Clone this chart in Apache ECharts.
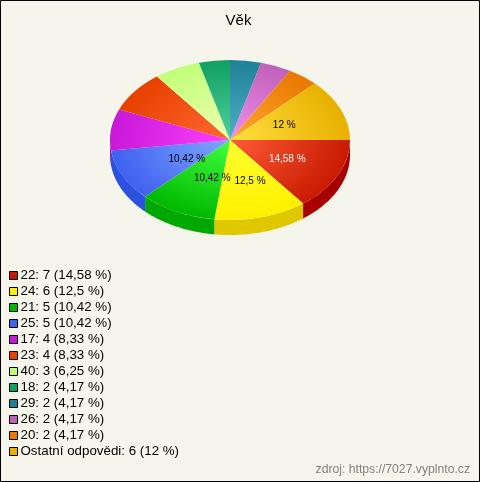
<!DOCTYPE html>
<html><head><meta charset="utf-8">
<style>html,body{margin:0;padding:0;background:#f5f5ec}#c{width:480px;height:482px}</style>
<script src="https://cdn.jsdelivr.net/npm/echarts@6/dist/echarts.min.js"></script>
</head><body><div id="c"></div>
<script>
const categories = ['22','24','21','25','17','23','40','18','29','26','20','Ostatní odpovědi'];
const values = [7,6,5,5,4,4,3,2,2,2,2,6];
const percents = ['14,58 %','12,5 %','10,42 %','10,42 %','8,33 %','8,33 %','6,25 %','4,17 %','4,17 %','4,17 %','4,17 %','12 %'];
const shownLabels = [true,true,true,true,false,false,false,false,false,false,false,true];
const labelColors = ['#fff','#000','#000','#000','#000','#000','#000','#000','#000','#000','#000','#000'];
const rimColors = ['#c81a00','#fff000','#00b800','#4060f0','#c818d8','#e84000','#c0ff78','#10a060','#208098','#c060b8','#e87800','#e8b000'];
const innerColors = ['#ff5c38','#ffff30','#40ff40','#80a8ff','#ff40ff','#ff6830','#f0ffb0','#50d0a0','#50b0c8','#f090f0','#ffa830','#ffe040'];
const sideColors = ['#a80000','#e0c800','#00a800','#2c50e0','#a010b0','#c03000','#a0d060','#088050','#186880','#a05098','#c06000','#c09000'];

const CX = 230, CY = 140, RX = 120, RY = 80, DEPTH = 15;
const total = values.reduce((a,b)=>a+b,0);
const starts = []; values.reduce((acc,v,i)=>{starts[i]=acc;return acc+v;},0);

function renderSlice(i){
  return function(params, api){
    const a0 = starts[i]/total*2*Math.PI, a1 = (starts[i]+values[i])/total*2*Math.PI;
    const children = [];
    if (a0 < Math.PI){
      const end = Math.min(a1, Math.PI), n = 40, pts = [];
      for(let k=0;k<=n;k++){const a=a0+(end-a0)*k/n;pts.push([CX+RX*Math.cos(a),CY+RY*Math.sin(a)]);}
      for(let k=n;k>=0;k--){const a=a0+(end-a0)*k/n;pts.push([CX+RX*Math.cos(a),CY+DEPTH+RY*Math.sin(a)]);}
      children.push({type:'polygon',z2:1,shape:{points:pts},style:{fill:sideColors[i],stroke:null}});
    }
    children.push({type:'group',x:CX,y:CY,scaleY:RY/RX,children:[{
      type:'sector',z2:2,
      shape:{cx:0,cy:0,r:RX,r0:0,startAngle:a0,endAngle:a1,clockwise:true},
      style:{fill:{type:'radial',x:0,y:0,r:RX,global:true,colorStops:[{offset:0,color:innerColors[i]},{offset:1,color:rimColors[i]}]},stroke:null}
    }]});
    if (shownLabels[i]){
      const m=(a0+a1)/2, t=percents[i];
      children.push({type:'text',z2:100,x:CX+56*Math.cos(m)+t.length*1.5-3.5,y:CY+42*Math.sin(m)+1,
        style:{text:t,fill:labelColors[i],font:'10px "Liberation Sans"',align:'center',verticalAlign:'middle'}});
    }
    return {type:'group',children};
  };
}

const series = categories.map((c,i)=>({
  type:'custom',name:c+': '+values[i]+' ('+percents[i]+')',coordinateSystem:'none',
  data:[values[i]],renderItem:renderSlice(i),silent:true,animation:false,clip:false,
  itemStyle:{color:rimColors[i]}
}));

const chart = echarts.init(document.getElementById('c'),null,{renderer:'canvas'});
chart.setOption({
  animation:false,backgroundColor:'#f5f5ec',
  title:{text:'Věk',left:238.5,top:13,padding:0,textAlign:'center',textStyle:{fontFamily:'Liberation Sans',fontSize:15,fontWeight:'normal',color:'#000'}},
  legend:{orient:'vertical',left:9,top:269,itemWidth:8,itemHeight:8,itemGap:3,icon:'rect',selectedMode:false,padding:0,
    itemStyle:{borderColor:'#000',borderWidth:1},
    textStyle:{fontFamily:'Liberation Sans',fontSize:13.33,color:'#000',padding:[0,0,0,-2],lineHeight:13}},
  series,
  graphic:[
    {type:'text',right:10,top:464,style:{text:'zdroj: https://7027.vyplnto.cz',fill:'#808080',font:'12.2px "Liberation Sans"'}},
    {type:'rect',silent:true,z:100,shape:{x:0.5,y:0.5,width:479,height:481},style:{fill:null,stroke:'#000',lineWidth:1}}
  ]
});
</script></body></html>
